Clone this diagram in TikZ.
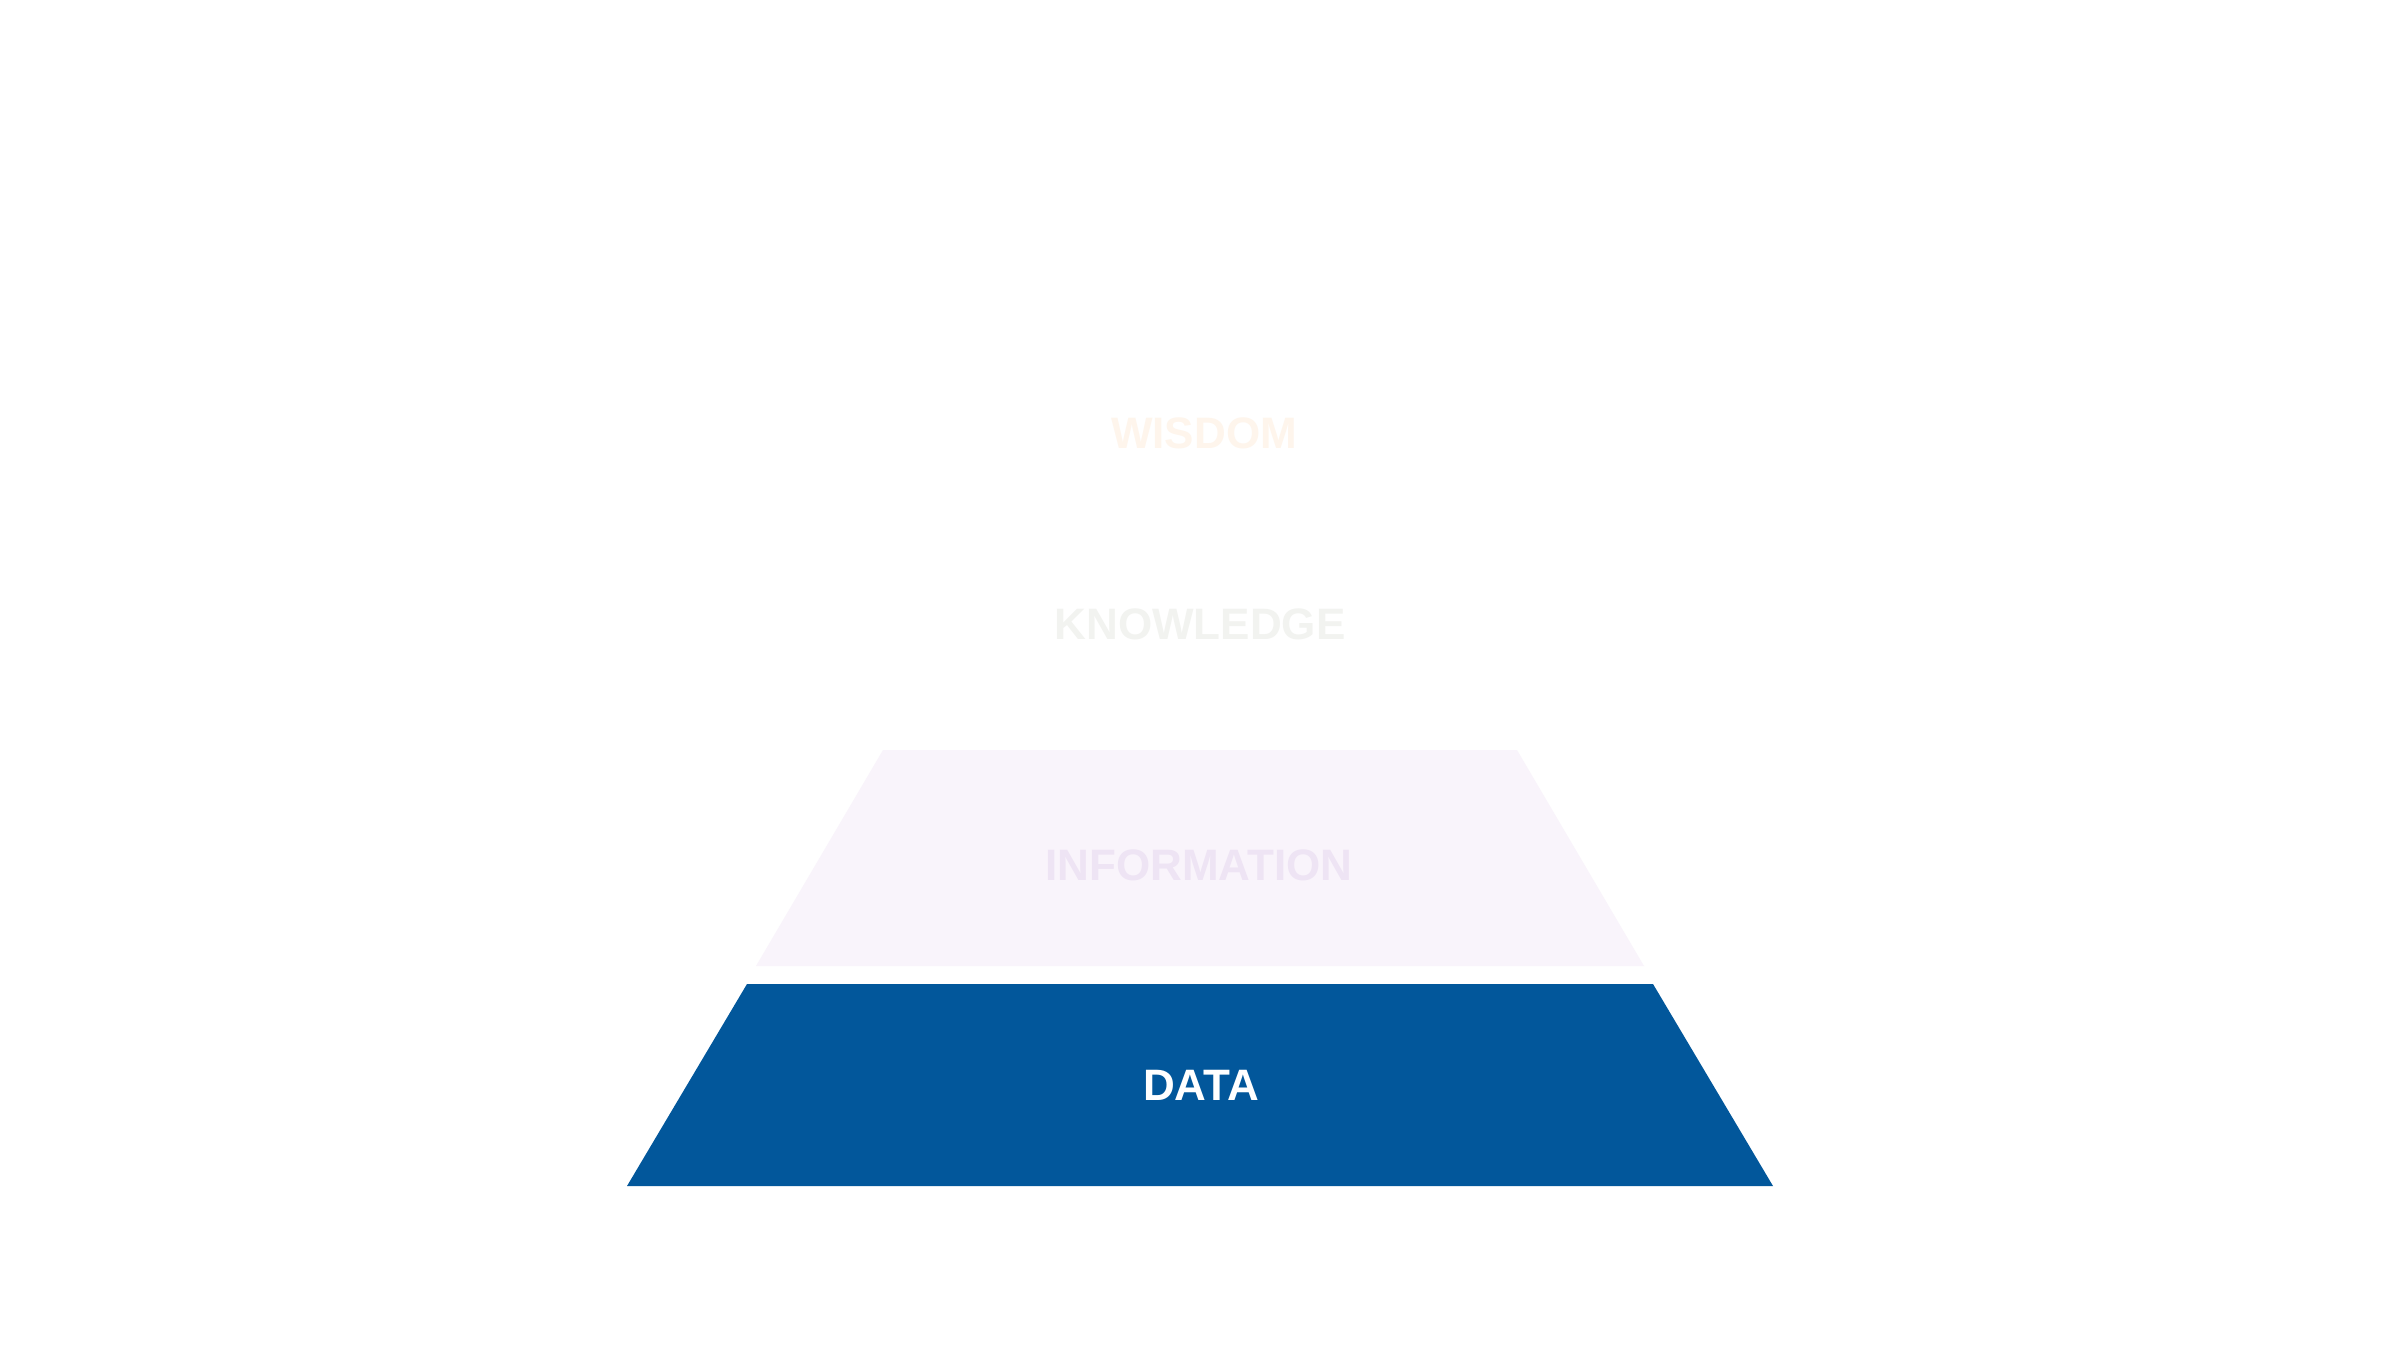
\documentclass[tikz,border=0pt]{standalone}
\usepackage{fontspec}
\setmainfont{Liberation Sans}
\definecolor{datablue}{RGB}{2,87,155}
\definecolor{infofill}{RGB}{249,244,251}
\definecolor{infotext}{RGB}{238,228,244}
\definecolor{knowtext}{RGB}{242,243,240}
\definecolor{wistext}{RGB}{254,245,236}
\tikzset{
  lbl/.style={font=\bfseries\fontsize{44}{44}\selectfont, inner sep=0pt, anchor=center},
  layer/.style={draw=none}
}
\begin{document}
\begin{tikzpicture}[x=1pt,y=-1pt]
\useasboundingbox (0,0) rectangle (2400,1350);
\fill[white] (0,0) rectangle (2400,1350);
% information layer
\fill[layer, infofill] (883,750) -- (1517,750) -- (1644,966) -- (756,966) -- cycle;
% data layer
\fill[layer, datablue] (747,984) -- (1653,984) -- (1773,1186) -- (627,1186) -- cycle;
\node[lbl, text=wistext] (wisdom) at (1204,433) {WISDOM};
\node[lbl, text=knowtext] (knowledge) at (1200,624) {KNOWLEDGE};
\node[lbl, text=infotext] (information) at (1199,865) {INFORMATION};
\node[lbl, text=white] (data) at (1201,1085) {DATA};
\end{tikzpicture}
\end{document}
